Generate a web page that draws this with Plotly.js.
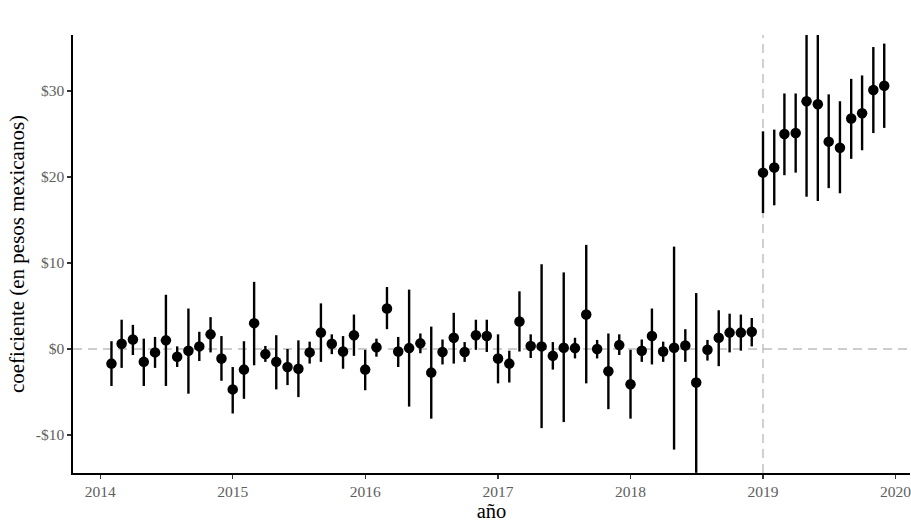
<!DOCTYPE html>
<html>
<head>
<meta charset="utf-8">
<script src="https://cdn.plot.ly/plotly-3.0.1.min.js"></script>
<style>html,body{margin:0;padding:0;background:#fff;}#chart{width:911px;height:523px;}</style>
</head>
<body>
<div id="chart"></div>
<script>
const months = [
  "2014-02-01","2014-03-01","2014-04-01","2014-05-01","2014-06-01","2014-07-01","2014-08-01","2014-09-01","2014-10-01","2014-11-01","2014-12-01",
  "2015-01-01","2015-02-01","2015-03-01","2015-04-01","2015-05-01","2015-06-01","2015-07-01","2015-08-01","2015-09-01","2015-10-01","2015-11-01","2015-12-01",
  "2016-01-01","2016-02-01","2016-03-01","2016-04-01","2016-05-01","2016-06-01","2016-07-01","2016-08-01","2016-09-01","2016-10-01","2016-11-01","2016-12-01",
  "2017-01-01","2017-02-01","2017-03-01","2017-04-01","2017-05-01","2017-06-01","2017-07-01","2017-08-01","2017-09-01","2017-10-01","2017-11-01","2017-12-01",
  "2018-01-01","2018-02-01","2018-03-01","2018-04-01","2018-05-01","2018-06-01","2018-07-01","2018-08-01","2018-09-01","2018-10-01","2018-11-01","2018-12-01",
  "2019-01-01","2019-02-01","2019-03-01","2019-04-01","2019-05-01","2019-06-01","2019-07-01","2019-08-01","2019-09-01","2019-10-01","2019-11-01","2019-12-01"
];
const coef = [
  -1.7, 0.6, 1.1, -1.5, -0.4, 1.0, -0.9, -0.2, 0.3, 1.7, -1.1,
  -4.7, -2.4, 3.0, -0.6, -1.5, -2.1, -2.3, -0.4, 1.9, 0.6, -0.3, 1.6,
  -2.4, 0.2, 4.7, -0.3, 0.1, 0.65, -2.75, -0.35, 1.3, -0.35, 1.6, 1.5,
  -1.1, -1.7, 3.2, 0.35, 0.3, -0.8, 0.15, 0.1, 4.0, 0.0, -2.6, 0.45,
  -4.1, -0.2, 1.5, -0.3, 0.15, 0.4, -3.9, -0.1, 1.3, 1.9, 1.9, 2.0,
  20.5, 21.1, 25.0, 25.1, 28.8, 28.45, 24.1, 23.4, 26.8, 27.4, 30.1, 30.6
];
const lower = [
  -4.3, -2.2, -0.7, -4.3, -2.2, -4.3, -2.1, -5.2, -1.4, -0.4, -3.7,
  -7.5, -5.8, -1.9, -1.5, -4.7, -4.2, -5.6, -1.7, -1.5, -0.6, -2.3, -0.8,
  -4.8, -0.9, 2.3, -2.1, -6.7, -0.5, -8.1, -1.8, -1.7, -1.5, -0.1, -0.35,
  -4.0, -3.9, -0.3, -1.05, -9.2, -2.4, -8.5, -1.1, -4.0, -1.1, -7.0, -0.7,
  -8.1, -1.5, -1.8, -1.5, -11.7, -1.5, -14.4, -1.35, -2.0, -0.4, -0.2, 0.3,
  15.8, 16.7, 20.2, 20.5, 17.7, 17.2, 18.7, 18.1, 22.1, 23.1, 25.1, 25.7
];
const upper = [
  0.9, 3.4, 2.8, 1.2, 1.4, 6.3, 0.3, 4.7, 2.0, 3.7, 1.5,
  -2.1, 0.9, 7.8, 0.35, 1.6, 0.0, 1.0, 0.85, 5.3, 1.7, 1.5, 4.0,
  -0.1, 1.2, 7.2, 1.4, 6.9, 1.8, 2.6, 1.1, 4.2, 0.8, 3.4, 3.4,
  1.7, -0.2, 6.7, 1.7, 9.85, 0.8, 8.9, 1.3, 12.1, 1.05, 1.8, 1.7,
  -0.1, 1.1, 4.7, 0.85, 11.9, 2.3, 6.5, 1.05, 4.5, 4.1, 4.0, 3.6,
  25.3, 25.5, 29.7, 29.7, 39.9, 39.7, 29.6, 28.8, 31.4, 31.8, 35.1, 35.5
];
const xTickVals = ["2014-01-01","2015-01-01","2016-01-01","2017-01-01","2018-01-01","2019-01-01","2020-01-01"];
const xTickText = ["2014","2015","2016","2017","2018","2019","2020"];
const yTickVals = [-10, 0, 10, 20, 30];
const yTickText = ["-$10","$0","$10","$20","$30"];

const plus = coef.map((c, i) => upper[i] - c);
const minus = coef.map((c, i) => c - lower[i]);

const serif = "'Liberation Serif', 'Times New Roman', serif";

const trace = {
  type: "scatter",
  mode: "markers",
  x: months,
  y: coef,
  marker: {color: "#000", size: 10.5},
  error_y: {type: "data", symmetric: false, array: plus, arrayminus: minus, width: 0, thickness: 2.4, color: "#000"},
  hoverinfo: "x+y",
  showlegend: false
};

const axisCommon = {
  showgrid: false,
  zeroline: false,
  showline: true,
  linecolor: "#000",
  linewidth: 1.7,
  ticks: "outside",
  ticklen: 4,
  tickwidth: 1.2,
  tickcolor: "#333",
  ticklabeloverflow: "allow",
  tickfont: {family: serif, size: 15.5, color: "#5e5e5e"}
};

const layout = {
  width: 911,
  height: 523,
  paper_bgcolor: "#fff",
  plot_bgcolor: "#fff",
  margin: {l: 73, r: 1, t: 35, b: 50},
  xaxis: Object.assign({}, axisCommon, {
    type: "date",
    range: ["2013-10-18", "2020-02-10"],
    tickmode: "array",
    tickvals: xTickVals,
    ticktext: xTickText,
    title: {text: "año", font: {family: serif, size: 20.5, color: "#000"}, standoff: 4}
  }),
  yaxis: Object.assign({}, axisCommon, {
    range: [-14.42, 36.5],
    tickmode: "array",
    tickvals: yTickVals,
    ticktext: yTickText,
    title: {text: "coeficiente (en pesos mexicanos)", font: {family: serif, size: 21, color: "#000"}, standoff: 5}
  }),
  shapes: [
    {type: "line", layer: "below", xref: "paper", x0: 0, x1: 1, yref: "y", y0: 0, y1: 0,
     line: {color: "#bdbdbd", width: 1.4, dash: "9px,6px"}},
    {type: "line", layer: "below", xref: "x", x0: "2019-01-01", x1: "2019-01-01", yref: "paper", y0: 0, y1: 1,
     line: {color: "#bdbdbd", width: 1.4, dash: "9px,6px"}}
  ]
};

Plotly.newPlot("chart", [trace], layout, {displayModeBar: false, staticPlot: true});
</script>
</body>
</html>
